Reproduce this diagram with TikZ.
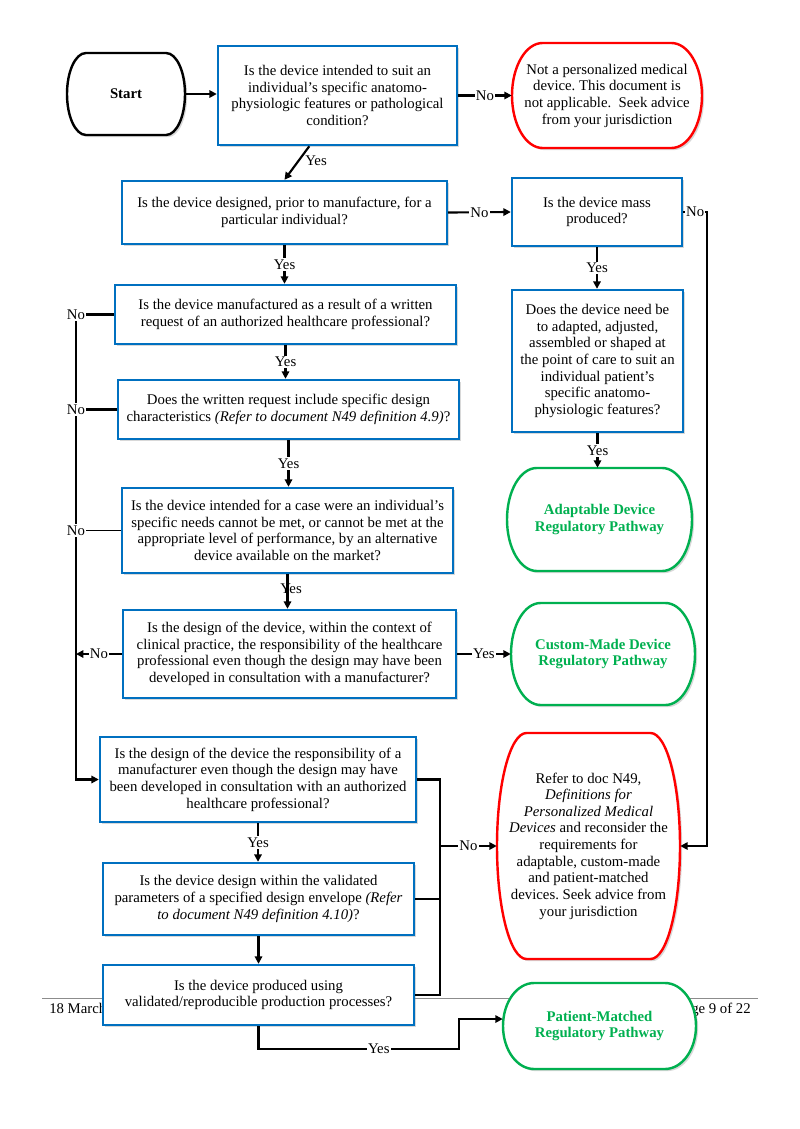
\documentclass[tikz,border=0pt]{standalone}
\usepackage{fontspec}
\setmainfont{Liberation Serif}
\usetikzlibrary{arrows.meta,shadows,calc}
\definecolor{qblue}{HTML}{0070C0}
\definecolor{tred}{HTML}{FF0000}
\definecolor{tgreen}{HTML}{00B050}
\definecolor{footgray}{HTML}{8C8C8C}
\frenchspacing
\newcommand\nfont{\fontsize{11}{12.4}\selectfont}
\newcommand\bffont{\fontsize{11}{12.4}\selectfont\bfseries}
% terminator: [node opts]{name}{cx}{cy}{w}{h}{colour}{text}
\newcommand\term[8][]{%
  \draw[termline, draw=#7] ({#3-#5/2+0.161*#5}, {#4-#6/2}) -- ({#3+#5/2-0.161*#5}, {#4-#6/2})
     arc[start angle=90, end angle=-90, x radius={0.161*#5*0.7447pt}, y radius={#6/2*0.7447pt}]
     -- ({#3-#5/2+0.161*#5}, {#4+#6/2})
     arc[start angle=270, end angle=90, x radius={0.161*#5*0.7447pt}, y radius={#6/2*0.7447pt}] -- cycle;
  \node[termnode, sz={#5}{#6}, #1] (#2) at (#3,#4) {#8};
}
\begin{document}
\begin{tikzpicture}[x=0.7447pt,y=-0.7447pt,
  every node/.style={font=\nfont},
  sz/.style 2 args={minimum width=#1*0.7447pt, minimum height=#2*0.7447pt},
  shadowed/.style={drop shadow={shadow xshift=1.6pt, shadow yshift=-1.6pt, opacity=0.3}},
  qbox/.style={draw=qblue, line width=1.8pt, fill=white, align=center, inner sep=2pt, shadowed},
  termnode/.style={align=center, inner sep=0pt},
  termline/.style={line width=1.8pt, fill=white, shadowed},
  conn/.style={line width=1.6pt, -{Triangle[length=5.5pt,width=5.5pt]}},
  plainline/.style={line width=1.6pt},
  thinline/.style={line width=0.8pt},
  lbl/.style={fill=white, inner sep=1pt},
]
\fill[white] (0,0) rectangle (799,1129);
\useasboundingbox (0,0) rectangle (799,1129);

% page footer (partly hidden by the boxes)
\draw[footgray, line width=0.6pt] (42,998) coordinate (fl) -- (758,998) coordinate (fr);
\node[anchor=base west, inner sep=0pt] (date) at (49,1013) {18 March 2020};
\node[anchor=base east, inner sep=0pt] (page) at (751,1013) {Page 9 of 22};

% nodes
\term[font=\bffont]{start}{126}{94}{118}{82}{black}{Start}
\node[qbox, sz={239}{99}] (q1) at (337.5,95.5) {Is the device intended to suit an\\individual’s specific anatomo-\\physiologic features or pathological\\condition?};
\term{red1}{607}{95.5}{190}{105}{tred}{Not a personalized medical\\device. This document is\\not applicable.\ \ Seek advice\\from your jurisdiction}
\node[qbox, sz={325}{63}] (q2) at (284.5,212.5) {Is the device designed, prior to manufacture, for a\\particular individual?};
\node[qbox, sz={170}{68}] (mass) at (597,212) {Is the device mass\\produced?};
\node[qbox, sz={341}{59}] (q3) at (285.5,314.5) {Is the device manufactured as a result of a written\\request of an authorized healthcare professional?};
\node[qbox, sz={171}{142}] (aq) at (597.5,361) {Does the device need be\\to adapted, adjusted,\\assembled or shaped at\\the point of care to suit an\\individual patient’s\\specific anatomo-\\physiologic features?};
\node[qbox, sz={341}{59}] (q4) at (288.5,409.5) {Does the written request include specific design\\characteristics \textit{(Refer to document N49 definition 4.9)}?};
\term[font=\bffont, text=tgreen]{adapt}{599.5}{519.5}{185}{103}{tgreen}{Adaptable Device\\Regulatory Pathway}
\node[qbox, sz={331}{85}] (q5) at (287.5,530.5) {Is the device intended for a case were an individual’s\\specific needs cannot be met, or cannot be met at the\\appropriate level of performance, by an alternative\\device available on the market?};
\node[qbox, sz={333}{88}] (q6) at (289.5,654) {Is the design of the device, within the context of\\clinical practice, the responsibility of the healthcare\\professional even though the design may have been\\developed in consultation with a manufacturer?};
\term[font=\bffont, text=tgreen]{custom}{603}{654}{184}{102}{tgreen}{Custom-Made Device\\Regulatory Pathway}
\node[qbox, sz={316}{85}] (q7) at (258,779.5) {Is the design of the device the responsibility of a\\manufacturer even though the design may have\\been developed in consultation with an authorized\\healthcare professional?};
\term{red2}{588.5}{846}{183}{226}{tred}{Refer to doc N49,\\\textit{Definitions for}\\\textit{Personalized Medical}\\\textit{Devices} and reconsider the\\requirements for\\adaptable, custom-made\\and patient-matched\\devices. Seek advice from\\your jurisdiction}
\node[qbox, sz={311}{72}] (q8) at (258.5,899) {Is the device design within the validated\\parameters of a specified design envelope \textit{(Refer}\\\textit{to document N49 definition 4.10)}?};
\node[qbox, sz={311}{60}] (q9) at (258.5,995) {Is the device produced using\\validated/reproducible production processes?};
\term[font=\bffont, text=tgreen]{patient}{599.5}{1026}{193}{86}{tgreen}{Patient-Matched\\Regulatory Pathway}

% helper coordinates
\coordinate (lx) at (76,0);
\coordinate (bx) at (440,0);
\coordinate (rx) at (707,0);
\coordinate (ybot) at (459,1049);
\coordinate (pin) at ([yshift=5.2pt]patient.west);

% connectors
\draw[conn] (start.east) -- (start.east -| q1.west);
\draw[conn] (q1.east) -- node[lbl] (l1) {No} (red1.west);
\node[inner sep=1pt] (l2) at (316,161) {Yes};
\draw[conn] ([xshift=-21pt]q1.south) -- (q2.north);
\draw[conn] (q2.east) -- node[lbl] (l3) {No} (mass.west);
\draw[conn] (mass.east) -- node[lbl] (l4) {No} (mass.east -| rx) -- (red2.east -| rx) -- (red2.east);
\draw[conn] (mass.south) -- node[lbl] (l5) {Yes} (mass.south |- aq.north);
\draw[conn] (aq.south) -- node[lbl] (l6) {Yes} (aq.south |- adapt.north);
\draw[conn] (q2.south) -- node[lbl] (l7) {Yes} (q2.south |- q3.north);
\draw[conn] (q3.south) -- node[lbl] (l8) {Yes} (q3.south |- q4.north);
\draw[conn] (q4.south) -- node[lbl] (l9) {Yes} (q4.south |- q5.north);
\node[inner sep=1pt] (l10) at (291,589) {Yes};
\draw[conn] (q5.south) -- (q5.south |- q6.north);
\draw[conn] (q6.east) -- node[lbl] (l11) {Yes} (custom.west);

\draw[conn] (q3.west) -- (q3.west -| lx) -- (q7.west -| lx) -- (q7.west);
\node[lbl] (l12) at (q3.west -| lx) {No};
\draw[plainline] (q4.west) -- (q4.west -| lx) node[lbl] (l13) {No};
\draw[thinline] (q5.west) -- (q5.west -| lx) node[lbl] (l14) {No};
\draw[conn] (q6.west) -- node[lbl] (l15) {No} (q6.west -| lx);

\draw[plainline] (q7.east) -- (q7.east -| bx) -- (q9.east -| bx) -- (q9.east);
\draw[thinline] (q8.east) -- (q8.east -| bx);
\draw[conn] (red2.west -| bx) -- node[lbl] (l16) {No} (red2.west);
\draw[conn] (q7.south) -- node[lbl] (l17) {Yes} (q7.south |- q8.north);
\draw[conn] (q8.south) -- (q8.south |- q9.north);
\draw[conn] (q9.south) |- node[lbl, pos=0.8] (l18) {Yes} (ybot) -- (ybot |- pin) -- (pin);
\end{tikzpicture}
\end{document}
